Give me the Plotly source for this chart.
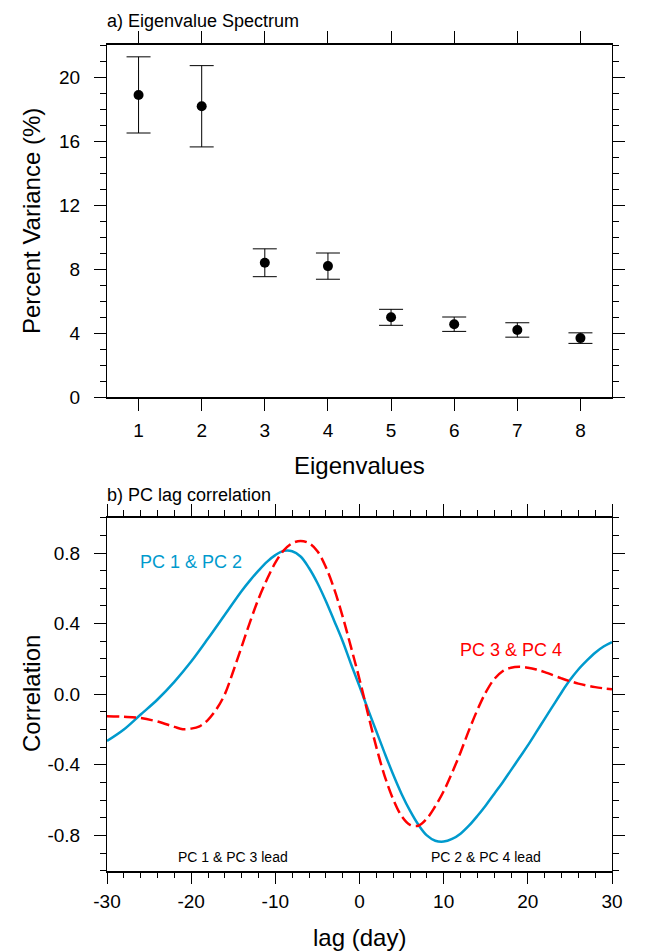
import plotly.graph_objects as go

# ---------------- data ----------------
eig_idx = [1, 2, 3, 4, 5, 6, 7, 8]
pct_var = [18.88, 18.17, 8.39, 8.18, 4.98, 4.55, 4.19, 3.68]
pct_err = [2.38, 2.54, 0.87, 0.82, 0.50, 0.45, 0.45, 0.33]

lag_b = [-30, -28, -26, -24, -22, -20, -18, -16, -14, -13, -12, -11, -10, -9, -8, -7, -6, -5, -4,
         -3, -2, -1, 0, 1, 2, 3, 4, 5, 6, 7, 8, 9, 10, 11, 12, 13, 14, 15, 16, 17, 18, 19, 20,
         21, 22, 23, 24, 25, 26, 27, 28, 29, 30]
corr_pc12 = [-0.265, -0.20, -0.115, -0.03, 0.07, 0.185, 0.315, 0.45, 0.585, 0.645, 0.70, 0.75,
             0.788, 0.812, 0.81, 0.78, 0.715, 0.63, 0.528, 0.415, 0.30, 0.17, 0.045, -0.085,
             -0.21, -0.335, -0.455, -0.565, -0.66, -0.74, -0.80, -0.83, -0.835, -0.82, -0.79,
             -0.745, -0.69, -0.63, -0.565, -0.50, -0.43, -0.36, -0.29, -0.215, -0.14, -0.065,
             0.01, 0.08, 0.14, 0.19, 0.235, 0.27, 0.295]

lag_r = [-30, -28, -26, -24, -22, -21, -20, -19, -18, -17, -16, -15, -14, -13, -12, -11, -10,
         -9, -8, -7, -6, -5, -4, -3, -2, -1, 0, 1, 2, 3, 4, 5, 6, 7, 8, 9, 10, 11, 12, 13, 14,
         15, 16, 17, 18, 19, 20, 21, 22, 24, 26, 28, 30]
corr_pc34 = [-0.125, -0.128, -0.135, -0.155, -0.185, -0.198, -0.195, -0.182, -0.145, -0.085,
             0.0, 0.13, 0.27, 0.41, 0.54, 0.65, 0.745, 0.815, 0.855, 0.868, 0.855, 0.81, 0.72,
             0.595, 0.44, 0.265, 0.085, -0.11, -0.30, -0.465, -0.595, -0.69, -0.74, -0.745,
             -0.705, -0.635, -0.55, -0.445, -0.33, -0.205, -0.09, 0.01, 0.085, 0.13, 0.15,
             0.155, 0.15, 0.14, 0.125, 0.09, 0.06, 0.04, 0.028]

top_yticks = [0, 4, 8, 12, 16, 20]
bot_xticks = [-30, -20, -10, 0, 10, 20, 30]
bot_xtext = ["-30", "-20", "-10", "0", "10", "20", "30"]
bot_yticks = [0.8, 0.4, 0.0, -0.4, -0.8]
bot_ytext = ["0.8", "0.4", "0.0", "-0.4", "-0.8"]

# ---------------- figure ----------------
W, H = 648, 951
FONT = "Liberation Sans, Arial, Helvetica, sans-serif"
BLUE = "#009ACD"
RED = "#FF0000"

def px_x(p):
    return p / W

def px_y(p):
    return 1 - p / H

fig = go.Figure()

fig.add_trace(go.Scatter(
    x=eig_idx, y=pct_var, mode="markers",
    marker=dict(color="black", size=10),
    error_y=dict(type="data", array=pct_err, visible=True, color="black", thickness=1, width=12),
    xaxis="x", yaxis="y", showlegend=False))

fig.add_trace(go.Scatter(
    x=lag_b, y=corr_pc12, mode="lines", line=dict(color=BLUE, width=2.5, shape="spline"),
    xaxis="x2", yaxis="y2", showlegend=False))
fig.add_trace(go.Scatter(
    x=lag_r, y=corr_pc34, mode="lines",
    line=dict(color=RED, width=2.5, shape="spline", dash="12px,5px"),
    xaxis="x2", yaxis="y2", showlegend=False))

xdom = [px_x(107), px_x(612)]
common = dict(showline=True, linecolor="black", mirror="ticks", ticks="outside",
              tickcolor="black", tickwidth=1, ticklen=12, showgrid=False, zeroline=False,
              automargin=False,
              tickfont=dict(family=FONT, size=19, color="black"))

fig.update_layout(
    width=W, height=H, margin=dict(l=0, r=0, t=0, b=0, pad=0, autoexpand=False),
    autosize=False,
    paper_bgcolor="white", plot_bgcolor="white",
    font=dict(family=FONT, color="black"),
    xaxis=dict(domain=xdom, range=[0.5, 8.5], tickvals=eig_idx, linewidth=1.5,
               anchor="y", ticklabelstandoff=3, **common),
    yaxis=dict(domain=[px_y(397), px_y(45)], range=[0, 22], tickvals=top_yticks, linewidth=1,
               anchor="x", ticklabelstandoff=10,
               minor=dict(dtick=1, ticklen=6, ticks="outside", tickcolor="black", tickwidth=1),
               **common),
    xaxis2=dict(domain=xdom, range=[-30, 30], tickvals=bot_xticks, ticktext=bot_xtext,
                linewidth=1.5, anchor="y2", ticklabelstandoff=1,
                minor=dict(dtick=2, ticklen=6, ticks="outside", tickcolor="black", tickwidth=1),
                **common),
    yaxis2=dict(domain=[px_y(870.7), px_y(517.7)], range=[-1, 1], tickvals=bot_yticks,
                ticktext=bot_ytext, linewidth=1, anchor="x2", ticklabelstandoff=10,
                minor=dict(dtick=0.1, ticklen=6, ticks="outside", tickcolor="black", tickwidth=1),
                **common),
)

ann = []
def txt(text, x, y, size, xanchor="center", angle=0, color="black", xref="paper", yref="paper"):
    ann.append(dict(text=text, x=x, y=y, xref=xref, yref=yref, showarrow=False,
                    xanchor=xanchor, yanchor="middle", textangle=angle,
                    font=dict(family=FONT, size=size, color=color)))

txt("a) Eigenvalue Spectrum", px_x(105), px_y(21), 18, xanchor="left")
txt("b) PC lag correlation", px_x(105), px_y(495), 18, xanchor="left")
txt("Percent Variance (%)", px_x(31), px_y(221), 24, angle=-90)
txt("Eigenvalues", px_x(359.5), px_y(465), 24)
txt("Correlation", px_x(31), px_y(694), 24, angle=-90)
txt("lag (day)", px_x(359.5), px_y(937), 24)
txt("PC 1 &amp; PC 2", -20, 0.75, 18, color=BLUE, xref="x2", yref="y2")
txt("PC 3 &amp; PC 4", 18, 0.25, 18, color=RED, xref="x2", yref="y2")
txt("PC 1 &amp; PC 3 lead", -15, -0.925, 14, xref="x2", yref="y2")
txt("PC 2 &amp; PC 4 lead", 15, -0.925, 14, xref="x2", yref="y2")
fig.update_layout(annotations=ann)

fig.write_html("out.html", config={"responsive": False, "displayModeBar": False},
               post_script="document.body.style.margin='0';document.body.style.overflow='hidden';")
